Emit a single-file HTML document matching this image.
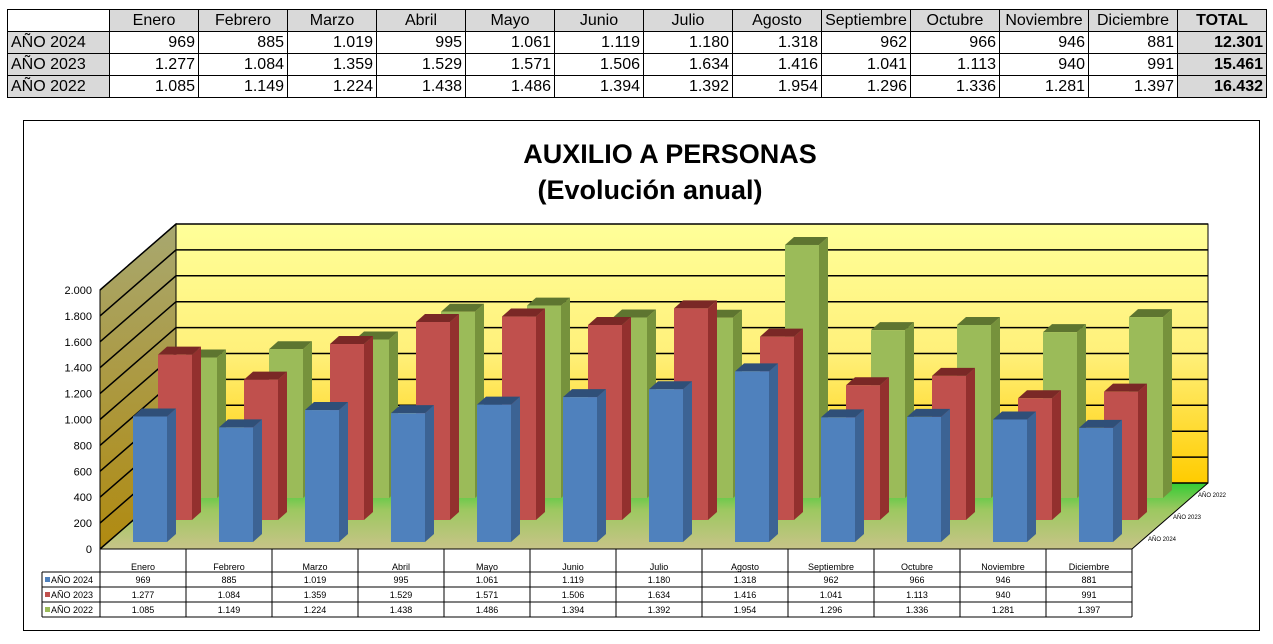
<!DOCTYPE html>
<html><head><meta charset="utf-8"><style>
body{margin:0;width:1273px;height:644px;background:#fff;font-family:"Liberation Sans",Arial,sans-serif;overflow:hidden;position:relative}
table.top{position:absolute;left:7px;top:9px;border-collapse:collapse;font-size:16px}
table.top td{border:1px solid #000;height:21px;padding:0 3px;width:82px;text-align:right;line-height:20px}
table.top tr:first-child td{background:#d9d9d9;text-align:center}
table.top tr:first-child td:first-child{background:#fff}
table.top td:first-child{background:#d9d9d9;text-align:left;width:95px}
table.top td.t{background:#d9d9d9;font-weight:bold}
#chartbox{position:absolute;left:23px;top:120px;width:1235px;height:509px;border:1px solid #000}
</style></head><body>
<table class="top">
<tr><td></td><td>Enero</td><td>Febrero</td><td>Marzo</td><td>Abril</td><td>Mayo</td><td>Junio</td><td>Julio</td><td>Agosto</td><td>Septiembre</td><td>Octubre</td><td>Noviembre</td><td>Diciembre</td><td class="t" style="text-align:center">TOTAL</td></tr>
<tr><td>AÑO 2024</td><td>969</td><td>885</td><td>1.019</td><td>995</td><td>1.061</td><td>1.119</td><td>1.180</td><td>1.318</td><td>962</td><td>966</td><td>946</td><td>881</td><td class="t">12.301</td></tr>
<tr><td>AÑO 2023</td><td>1.277</td><td>1.084</td><td>1.359</td><td>1.529</td><td>1.571</td><td>1.506</td><td>1.634</td><td>1.416</td><td>1.041</td><td>1.113</td><td>940</td><td>991</td><td class="t">15.461</td></tr>
<tr><td>AÑO 2022</td><td>1.085</td><td>1.149</td><td>1.224</td><td>1.438</td><td>1.486</td><td>1.394</td><td>1.392</td><td>1.954</td><td>1.296</td><td>1.336</td><td>1.281</td><td>1.397</td><td class="t">16.432</td></tr>
</table>
<div id="chartbox"></div>
<svg id="svg" width="1273" height="644" style="position:absolute;left:0;top:0">
<defs>
<linearGradient id="wall" x1="0" y1="0" x2="0" y2="1"><stop offset="0" stop-color="#ffff99"/><stop offset="0.5" stop-color="#fff07a"/><stop offset="1" stop-color="#ffcc00"/></linearGradient>
<linearGradient id="side" x1="0" y1="0" x2="0" y2="1"><stop offset="0" stop-color="#a8a870"/><stop offset="1" stop-color="#b08a10"/></linearGradient>
<linearGradient id="floor" x1="0" y1="0" x2="0" y2="1"><stop offset="0" stop-color="#33cc33"/><stop offset="0.4" stop-color="#9cc860"/><stop offset="1" stop-color="#c8c488"/></linearGradient>
</defs>
<text x="670" y="163" text-anchor="middle" font-size="27" font-weight="bold">AUXILIO A PERSONAS</text>
<text x="650" y="199" text-anchor="middle" font-size="27" font-weight="bold">(Evolución anual)</text>
<g id="g"></g>
</svg>
<script>
const months=["Enero","Febrero","Marzo","Abril","Mayo","Junio","Julio","Agosto","Septiembre","Octubre","Noviembre","Diciembre"];
const seriesNames=["AÑO 2024","AÑO 2023","AÑO 2022"];
const s2024=[969,885,1019,995,1061,1119,1180,1318,962,966,946,881];
const s2023=[1277,1084,1359,1529,1571,1506,1634,1416,1041,1113,940,991];
const s2022=[1085,1149,1224,1438,1486,1394,1392,1954,1296,1336,1281,1397];
const ticks=[0,200,400,600,800,1000,1200,1400,1600,1800,2000];
const NS="http://www.w3.org/2000/svg";
const g=document.getElementById('g');
const X0=100,Y0=549,X1=1132,DX=76,DY=-66,SC=259/2000;
const cw=(X1-X0)/12;
const y=v=>v*SC;
const fmt=v=>v>=1000?Math.floor(v/1000)+"."+String(v%1000).padStart(3,"0"):String(v);
function el(t,a,txt){const e=document.createElementNS(NS,t);for(const k in a)e.setAttribute(k,a[k]);if(txt!==undefined)e.textContent=txt;g.appendChild(e);return e;}
let e;
e=el('polygon',{points:`${X0+DX},${Y0+DY-y(2000)} ${X1+DX},${Y0+DY-y(2000)} ${X1+DX},${Y0+DY} ${X0+DX},${Y0+DY}`,fill:'url(#wall)',stroke:'#000'});

e=el('polygon',{points:`${X0},${Y0-y(2000)} ${X0+DX},${Y0+DY-y(2000)} ${X0+DX},${Y0+DY} ${X0},${Y0}`,fill:'url(#side)',stroke:'#000'});

e=el('polygon',{points:`${X0},${Y0} ${X1},${Y0} ${X1+DX},${Y0+DY} ${X0+DX},${Y0+DY}`,fill:'url(#floor)'});

ticks.forEach(t=>{
 e=el('polyline',{points:`${X0},${Y0-y(t)} ${X0+DX},${Y0+DY-y(t)} ${X1+DX},${Y0+DY-y(t)}`,fill:'none',stroke:'#000','stroke-width':1.5});
 
 e=el('text',{x:X0-8,y:Y0-y(t)+4,'text-anchor':'end','font-size':11},fmt(t));
 
});
el('line',{x1:X0,y1:Y0,x2:X1,y2:Y0,stroke:'#000'});
el('line',{x1:X1,y1:Y0,x2:X1+DX,y2:Y0+DY,stroke:'#000'});
const cols=[["#4f81bd","#3c6394","#2f4f78"],["#c0504d","#93302e","#7a2826"],["#9bbb59","#76923c","#5e7530"]];
const data=[s2024,s2023,s2022];
const sdx=25,sdy=-22,bw=34,dd=9,dv=-8;
for(let s=2;s>=0;s--){
 const bx0=X0+33+s*sdx, by=542+s*sdy;
 for(let i=0;i<12;i++){
  const x=bx0+i*cw,h=y(data[s][i]),top=by-h;
  e=el('polygon',{points:`${x+bw},${by} ${x+bw+dd},${by+dv} ${x+bw+dd},${top+dv} ${x+bw},${top}`,fill:cols[s][1]});
  
  e=el('polygon',{points:`${x},${top} ${x+dd},${top+dv} ${x+bw+dd},${top+dv} ${x+bw},${top}`,fill:cols[s][2]});
  
  e=el('rect',{x:x,y:top,width:bw,height:h,fill:cols[s][0]});
  
 }
}
[0,1,2].forEach(s=>{
 e=el('text',{x:X1+8+(2-s)*25+(s==0?0:0),y:Y0-8+(s)*-22+ (s==0?0:0),'font-size':6},seriesNames[s]);
 e.setAttribute('x',1148+s*25);e.setAttribute('y',541-s*22);
 
});
// bottom data table
const rowsY=[549,572,587,602,617];
el('line',{x1:X0,y1:549,x2:X0,y2:617,stroke:'#000'});
for(let i=0;i<=12;i++){el('line',{x1:X0+i*cw,y1:549,x2:X0+i*cw,y2:617,stroke:'#000'});}
el('line',{x1:42,y1:572,x2:X1,y2:572,stroke:'#000'});
el('line',{x1:42,y1:587,x2:X1,y2:587,stroke:'#000'});
el('line',{x1:42,y1:602,x2:X1,y2:602,stroke:'#000'});
el('line',{x1:42,y1:617,x2:X1,y2:617,stroke:'#000'});
el('line',{x1:42,y1:572,x2:42,y2:617,stroke:'#000'});
months.forEach((m,i)=>{
 e=el('text',{x:X0+(i+.5)*cw,y:570,'text-anchor':'middle','font-size':9},m);
 
 data.forEach((d,s)=>{
  e=el('text',{x:X0+(i+.5)*cw,y:rowsY[s+1]+11,'text-anchor':'middle','font-size':9},fmt(d[i]));
  
 });
});
seriesNames.forEach((n,s)=>{
 e=el('rect',{x:45,y:rowsY[s+1]+5,width:5,height:5,fill:cols[s][0]});
 
 e=el('text',{x:51,y:rowsY[s+1]+11,'font-size':9},n);
 
});
</script>
</body></html>
